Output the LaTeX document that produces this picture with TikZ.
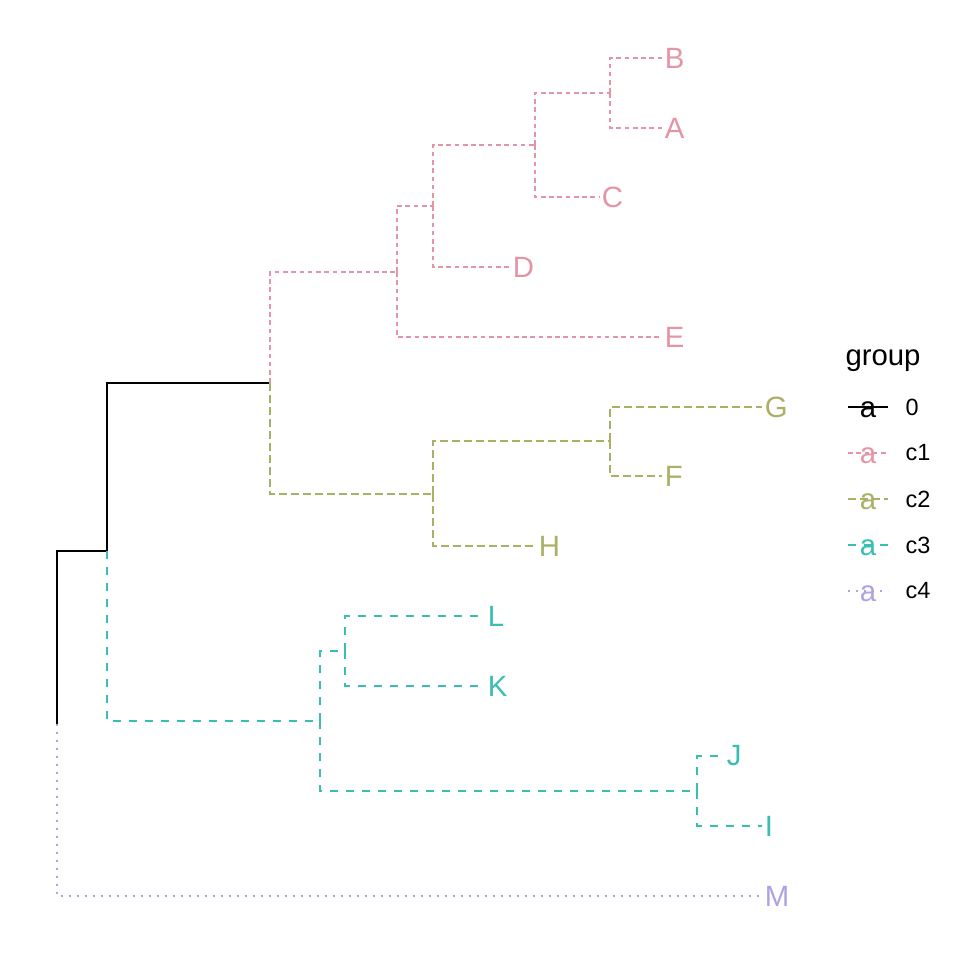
\documentclass[tikz,border=0pt]{standalone}
\usepackage{fontspec}
\setmainfont{Liberation Sans}
\usepackage{xcolor}
\usetikzlibrary{positioning, calc}
\definecolor{grpzero}{HTML}{000000}
\definecolor{grpone}{HTML}{E495A5}
\definecolor{grptwo}{HTML}{ABB065}
\definecolor{grpthree}{HTML}{39BEB1}
\definecolor{grpfour}{HTML}{ACA4E2}
\tikzset{
  font=\fontsize{11}{13}\selectfont,
  %
  edge/.style={line width=0.8pt, line cap=butt},
  gzero/.style={edge, draw=grpzero},
  gone/.style={edge, draw=grpone, dash pattern=on 1.75pt off 1.35pt},
  gtwo/.style={edge, draw=grptwo, dash pattern=on 3pt off 1.5pt},
  gthree/.style={edge, draw=grpthree, dash pattern=on 3pt off 3pt},
  gfour/.style={edge, draw=grpfour, dash pattern=on 0.75pt off 2.25pt},
  %
  tip/.style={anchor=west, inner xsep=0.9pt, inner ysep=0pt},
  keytxt/.style={font=\fontsize{8.8}{10}\selectfont, anchor=west, inner sep=0pt},
  keya/.style={inner sep=0pt},
}

\begin{document}
\begin{tikzpicture}[x=0.375pt, y=-0.375pt]
\useasboundingbox (0,0) rectangle (960,960);

% =========================================================================
% internal nodes of the tree
% =========================================================================
\coordinate (root)  at (57,724);
\coordinate (nUp)   at (107,551);
\coordinate (nCot)  at (270,383);
\coordinate (nOne)  at (397,272);
\coordinate (nBACD) at (433,206);
\coordinate (nBAC)  at (535,145);
\coordinate (nBA)   at (610,93);
\coordinate (nGFH)  at (433,494);
\coordinate (nGF)   at (610,441);
\coordinate (nLKJI) at (320,721);
\coordinate (nLK)   at (345,651);
\coordinate (nJI)   at (697,791);

% =========================================================================
% tips and their labels
% =========================================================================
\coordinate (tB) at (662,58);
\coordinate (tA) at (662,128);
\coordinate (tC) at (599,197);
\coordinate (tD) at (510,267);
\coordinate (tE) at (662,337);
\coordinate (tG) at (762,407);
\coordinate (tF) at (662,476);
\coordinate (tH) at (536,546);
\coordinate (tL) at (485,616);
\coordinate (tK) at (485,686);
\coordinate (tJ) at (724,756);
\coordinate (tI) at (762,826);
\coordinate (tM) at (762,896);

\node[tip, text=grpone]   (B) at (tB) {B};
\node[tip, text=grpone]   (A) at (tA) {A};
\node[tip, text=grpone]   (C) at (tC) {C};
\node[tip, text=grpone]   (D) at (tD) {D};
\node[tip, text=grpone]   (E) at (tE) {E};
\node[tip, text=grptwo]   (G) at (tG) {G};
\node[tip, text=grptwo]   (F) at (tF) {F};
\node[tip, text=grptwo]   (H) at (tH) {H};
\node[tip, text=grpthree] (L) at (tL) {L};
\node[tip, text=grpthree] (K) at (tK) {K};
\node[tip, text=grpthree] (J) at (tJ) {J};
\node[tip, text=grpthree] (I) at (tI) {I};
\node[tip, text=grpfour]  (M) at (tM) {M};

% =========================================================================
% edges, coloured by the group of the child
% =========================================================================
\draw[gzero] (root) |- (nUp);
\draw[gzero] (nUp) |- (nCot);

\draw[gone] (nCot) |- (nOne);
\draw[gone] (nOne) |- (nBACD);
\draw[gone] (nOne) |- (tE);
\draw[gone] (nBACD) |- (nBAC);
\draw[gone] (nBACD) |- (tD);
\draw[gone] (nBAC) |- (nBA);
\draw[gone] (nBAC) |- (tC);
\draw[gone] (nBA) |- (tB);
\draw[gone] (nBA) |- (tA);

\draw[gtwo] (nCot) |- (nGFH);
\draw[gtwo] (nGFH) |- (nGF);
\draw[gtwo] (nGFH) |- (tH);
\draw[gtwo] (nGF) |- (tG);
\draw[gtwo] (nGF) |- (tF);

\draw[gthree] (nUp) |- (nLKJI);
\draw[gthree] (nLKJI) |- (nLK);
\draw[gthree] (nLKJI) |- (nJI);
\draw[gthree] (nLK) |- (tL);
\draw[gthree] (nLK) |- (tK);
\draw[gthree] (nJI) |- (tJ);
\draw[gthree] (nJI) |- (tI);

\draw[gfour] (root) |- (tM);

% =========================================================================
% legend
% =========================================================================
\node[anchor=base west, inner sep=0pt] (legtitle) at (845,365) {group};

\foreach \y/\g/\c/\t/\n in {407/gzero/grpzero/0/0, 453/gone/grpone/c1/1,
    499/gtwo/grptwo/c2/2, 545/gthree/grpthree/c3/3, 591/gfour/grpfour/c4/4} {
  \draw[\g] (848,\y) -- (888,\y);
  \node[keya, text=\c] (keya\n) at (868,\y+3) {a};
  \node[keytxt] (keytxt\n) at (905,\y) {\t};
}

\end{tikzpicture}
\end{document}
